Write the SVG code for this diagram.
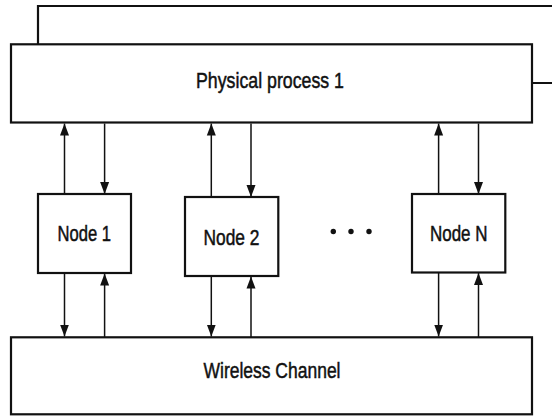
<svg xmlns="http://www.w3.org/2000/svg" width="552" height="417" viewBox="0 0 552 417">
<style>
.box{fill:#fff;stroke:#111;stroke-width:2.2}
.ln{fill:none;stroke:#111;stroke-width:2}
.edge{stroke:#111;stroke-width:1.5;fill:none;marker-end:url(#ah)}
.t{font-family:"Liberation Sans Narrow","Liberation Sans",Arial,sans-serif;font-size:22.5px;fill:#111;stroke:#111;stroke-width:0.5}
</style>
<defs>
<marker id="ah" markerUnits="userSpaceOnUse" markerWidth="12" markerHeight="10" refX="12" refY="5" orient="auto">
<path d="M0,0.5 L12,5 L0,9.5 z" fill="#111"/>
</marker>
</defs>
<rect width="552" height="417" fill="#fff"/>
<g id="process-back">
<path class="box" d="M38,44 L38,6 L553,6" fill="none"/>
<path class="ln" d="M532,83 L553,83"/>
</g>
<g id="process">
<rect class="box" x="11" y="44.3" width="521" height="78.2"/>
<text class="t" x="196" y="88" textLength="148" lengthAdjust="spacingAndGlyphs">Physical process 1</text>
</g>
<g id="node1">
<rect class="box" x="38" y="194" width="93" height="79"/>
<text class="t" x="57.5" y="241" textLength="53.5" lengthAdjust="spacingAndGlyphs">Node 1</text>
</g>
<g id="node2">
<rect class="box" x="185" y="197" width="93.3" height="79"/>
<text class="t" x="203.5" y="245" textLength="56" lengthAdjust="spacingAndGlyphs">Node 2</text>
</g>
<g id="nodeN">
<rect class="box" x="412" y="194" width="93.3" height="78.5"/>
<text class="t" x="430" y="241" textLength="57.5" lengthAdjust="spacingAndGlyphs">Node N</text>
</g>
<g id="ellipsis" fill="#111">
<circle cx="333.3" cy="231.5" r="2.7"/>
<circle cx="351" cy="231.5" r="2.7"/>
<circle cx="369" cy="231.5" r="2.7"/>
</g>
<g id="channel">
<rect class="box" x="11" y="337.3" width="521" height="77"/>
<text class="t" x="203.5" y="378" textLength="137" lengthAdjust="spacingAndGlyphs">Wireless Channel</text>
</g>
<g id="connectors">
<line class="edge" x1="64.5" y1="194" x2="64.5" y2="123.5"/>
<line class="edge" x1="104.6" y1="123.5" x2="104.6" y2="194"/>
<line class="edge" x1="211.3" y1="197" x2="211.3" y2="123.5"/>
<line class="edge" x1="251" y1="123.5" x2="251" y2="197"/>
<line class="edge" x1="438.6" y1="194" x2="438.6" y2="123.5"/>
<line class="edge" x1="478.5" y1="123.5" x2="478.5" y2="194"/>
<line class="edge" x1="64.5" y1="273" x2="64.5" y2="336.5"/>
<line class="edge" x1="104.6" y1="337" x2="104.6" y2="273.5"/>
<line class="edge" x1="211.3" y1="276" x2="211.3" y2="336.5"/>
<line class="edge" x1="251" y1="337" x2="251" y2="276.5"/>
<line class="edge" x1="438.6" y1="272.5" x2="438.6" y2="336.5"/>
<line class="edge" x1="478.5" y1="337" x2="478.5" y2="273"/>
</g>
</svg>
